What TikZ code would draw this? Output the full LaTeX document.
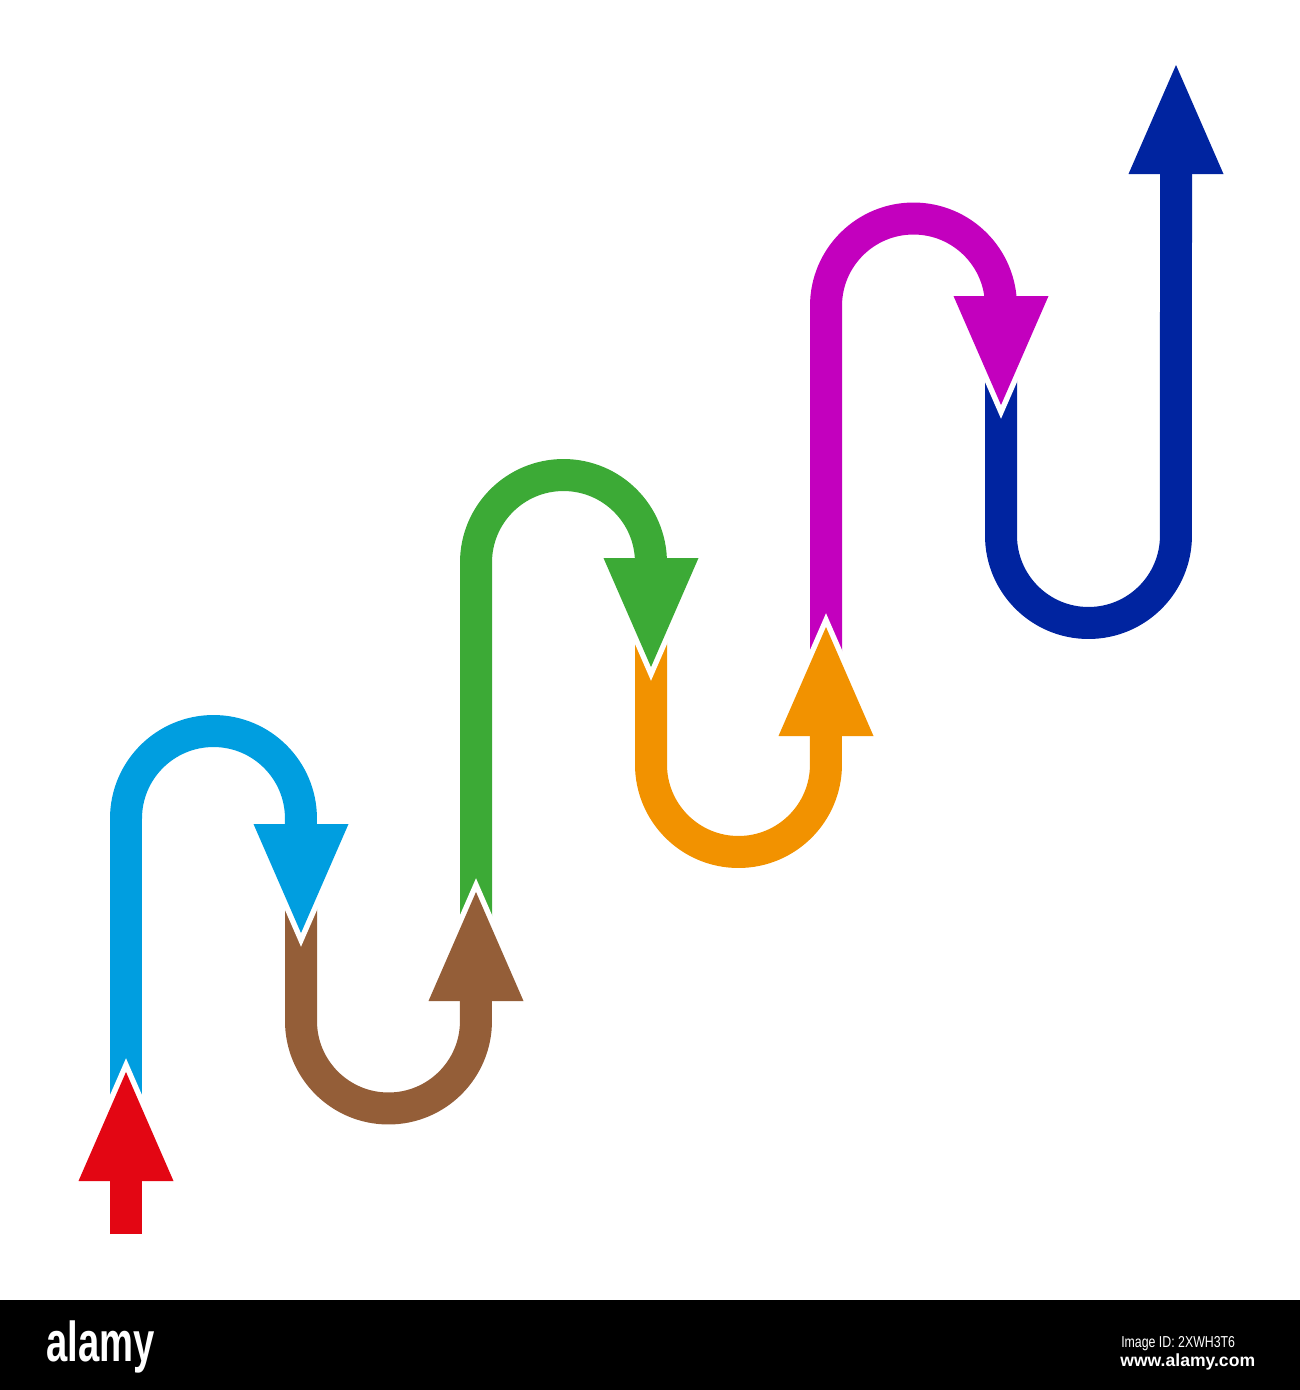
\documentclass[tikz,border=0pt]{standalone}
\usepackage{fontspec}
\setsansfont{Liberation Sans}
\usepackage{tikz}

\definecolor{arrowred}{RGB}{227,6,19}
\definecolor{arrowsky}{RGB}{0,158,224}
\definecolor{arrowbrown}{RGB}{148,94,56}
\definecolor{arrowgreen}{RGB}{60,170,54}
\definecolor{arroworange}{RGB}{242,146,0}
\definecolor{arrowmagenta}{RGB}{195,0,190}
\definecolor{arrownavy}{RGB}{0,36,160}

\tikzset{
  band/.style={line width=0.64cm},
  rim/.style={draw=white, line width=0.22cm},
  pics/uphead/.style={code={
      \draw[rim] (-47.5,109) -- (0,0) -- (47.5,109);
      \fill[#1] (-47.5,109) -- (0,0) -- (47.5,109) -- cycle;
  }},
  pics/downhead/.style={code={
      \draw[rim] (-47.5,-109) -- (0,0) -- (47.5,-109);
      \fill[#1] (-47.5,-109) -- (0,0) -- (47.5,-109) -- cycle;
  }},
}

\begin{document}
\begin{tikzpicture}[x=0.02cm, y=-0.02cm]
  \useasboundingbox (0,0) rectangle (1300,1390);

  % tips of the heads
  \coordinate (redtip) at (126,1072);
  \coordinate (skytip) at (301,933);
  \coordinate (browntip) at (476,892);
  \coordinate (greentip) at (651,667);
  \coordinate (orangetip) at (826,627);
  \coordinate (magentatip) at (1001,405);
  \coordinate (navytip) at (1176,65);

  % bands
  \draw[band, arrowred] (126,1234) -- (126,1160);
  \draw[band, arrowsky] (126,1117) -- (126,818.5)
    arc[start angle=180, end angle=0, radius=1.75cm] -- (301,850);
  \draw[band, arrowbrown] (301,888) -- (301,1021)
    arc[start angle=180, end angle=360, radius=1.75cm] -- (476,975);
  \draw[band, arrowgreen] (476,937) -- (476,562.5)
    arc[start angle=180, end angle=0, radius=1.75cm] -- (651,590);
  \draw[band, arroworange] (651,622) -- (651,764.5)
    arc[start angle=180, end angle=360, radius=1.75cm] -- (826,710);
  \draw[band, arrowmagenta] (826,672) -- (826,306)
    arc[start angle=180, end angle=0, radius=1.75cm] -- (1001,330);
  \draw[band, arrownavy] (1001,360) -- (1001,535.5)
    arc[start angle=180, end angle=360, radius=1.75cm] -- (1176,140);

  % heads
  \pic at (redtip) {uphead=arrowred};
  \pic at (skytip) {downhead=arrowsky};
  \pic at (browntip) {uphead=arrowbrown};
  \pic at (greentip) {downhead=arrowgreen};
  \pic at (orangetip) {uphead=arroworange};
  \pic at (magentatip) {downhead=arrowmagenta};
  \pic at (navytip) {uphead=arrownavy};

  % banner
  \fill[black] (0,1300) rectangle (1300,1390);
  \node[white, font=\sffamily\bfseries\fontsize{32}{32}\selectfont,
    anchor=base west, xscale=0.68, inner sep=0pt] (logo) at (46,1361) {alamy};
  \node[white, font=\sffamily\fontsize{9}{10}\selectfont,
    anchor=base west, xscale=0.78, inner sep=0pt] (imageid) at (1121,1347) {Image ID: 2XWH3T6};
  \node[white, font=\sffamily\bfseries\fontsize{10}{11}\selectfont,
    anchor=base west, inner sep=0pt] (site) at (1120,1366) {www.alamy.com};
\end{tikzpicture}
\end{document}
